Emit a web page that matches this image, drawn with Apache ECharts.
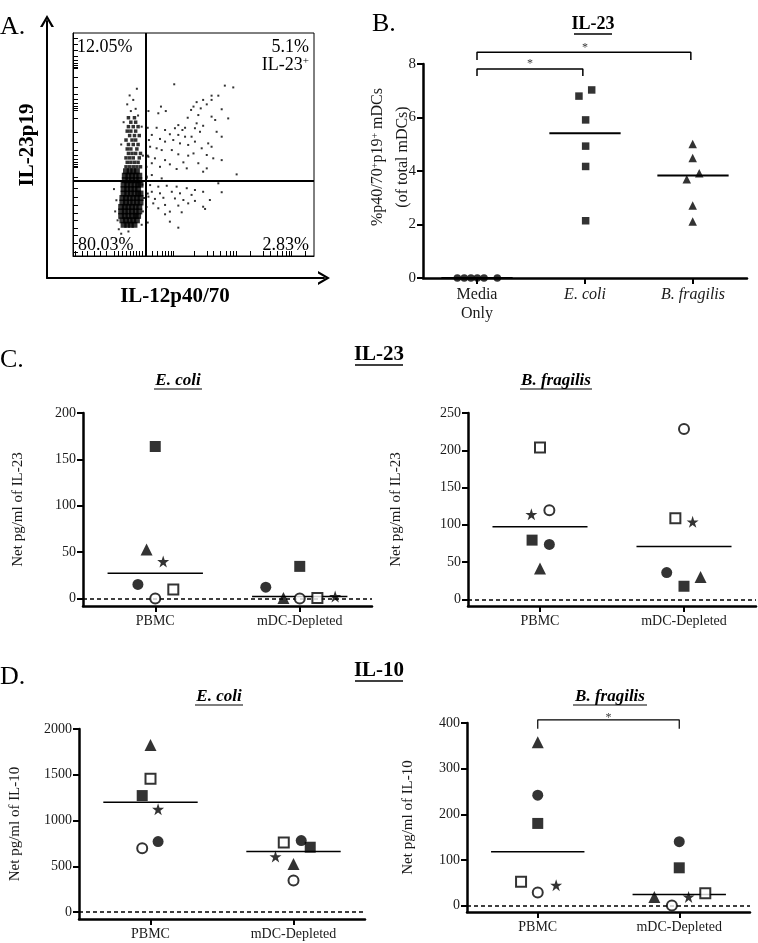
<!DOCTYPE html>
<html><head><meta charset="utf-8">
<script src="https://cdn.jsdelivr.net/npm/echarts@6/dist/echarts.min.js"></script>
<style>html,body{margin:0;padding:0;background:#fff}#c{width:758px;height:943px}</style>
</head><body><div id="c"></div>
<script>
// ================= DATA =================
// ---- Panel A (flow cytometry dot plot, arbitrary display units 0-100)
const flowTicksX = [0.8,3.7,5.8,8.7,11.2,13.7,17.0,18.7,20.3,22.0,23.7,24.9,26.1,27.4,28.6,32.8,34.9,36.9,38.2,39.4,40.7,41.5,50.2,55.6,58.1,61.0,63.5,65.1,66.4,67.6,73.4,78.8,81.7,84.6,86.7,88.4,89.6,90.5,96.3];
const flowTicksY = [97.8,95.1,92.4,89.7,87.9,86.5,85.7,84.8,84.3,80.3,75.8,72.6,70.4,68.6,67.3,66.4,65.5,61.9,55.6,51.1,47.5,45.3,43.5,42.2,41.3,40.4,39.9,35.4,30.5,26.5,22.9,19.3,16.1,12.6,9.4,5.8,1.8];
const flowGateX = 30.3;
const flowGateY = 33.6;
const flowCore = [
[21,14],[22.5,14],[24,14],[25.5,14],
[20.5,16],[22,16],[23.5,16],[25,16],[26.5,16],
[20,18],[21.5,18],[23,18],[24.5,18],[26,18],[27,18],
[20,20],[21.5,20],[23,20],[24.5,20],[26,20],[27.5,20],
[20,22],[21.5,22],[23,22],[24.5,22],[26,22],[27.5,22],
[20.5,24],[22,24],[23.5,24],[25,24],[26.5,24],[28,24],
[20.5,26],[22,26],[23.5,26],[25,26],[26.5,26],[28,26],
[21,28],[22.5,28],[24,28],[25.5,28],[27,28],[28,28],
[21,30],[22.5,30],[24,30],[25.5,30],[27,30],
[21,32],[22.5,32],[24,32],[25.5,32],[27,32],[28,32],
[21.5,34],[23,34],[24.5,34],[26,34],[27.5,34],
[21.5,36],[23,36],[24.5,36],[26,36],[27.5,36],
[22,38],[23.5,38],[25,38],[26.5,38]
];
const flowUpper = [
[22,40],[23.5,40],[25,40],[26.5,40],[28,40],
[22.5,42],[24,42],[25.5,42],[27,42],
[22,44],[23.5,44],[25,44],[27.5,44],
[23,46],[24.5,46],[26,46],[28,46],
[22.5,48],[24,48],[26.5,48],
[23,50],[25,50],[27,50],
[22,52],[24.5,52],[26,52],
[23.5,54],[25.5,54],[27.5,54],
[22.5,56],[24,56],[26,56],
[23,58],[25,58],[27,58],
[24,60],[26,60],
[23,62],[25.5,62]
];
const flowSparse = [
[24,65],[26,66],[22.5,68],[25,70],[27,63],[23.5,72],[26.5,75],[21,60],[28.5,58],[20,50],[29,45],
[19,12],[18.5,16],[17.5,20],[20,10],[23,11],[28.5,14],[29,20],[29.5,26],[28.8,32],[18,25],[17,30],
[30.5,35],[31,28],[30.5,22],[31,45],[31.5,52],[30.5,40],[31,15],
[42,77],[63,76.4],[66.5,75.6],[60.3,71.9],[57.5,71.9],[54,70],[57.5,70],[51.3,69],[55.5,68],[36.5,67],
[50,67],[53,66.2],[49,65.5],[38.5,65],[31.3,65],[35.4,64],[61.7,65.8],[52,63.2],[57.5,62.5],[47.6,62],
[64.4,61.7],[59,61],[51.3,59.5],[43.7,58.7],[46.5,57.5],[34.7,57.5],[38.2,56.5],[42.3,57.3],[45.4,56.5],
[50.6,57.3],[54,58.4],[31,57.5],[40.2,54.6],[43.7,54.3],[46.5,53.5],[49.2,53.5],[52.7,55.7],[59.6,55.7],
[61.7,53.5],[32.7,54.3],[36.1,52.5],[41.6,52],[38.2,51.3],[44.4,50.5],[47.8,49.8],[50.6,51.3],[56.1,50.5],
[57.5,49],[53.4,48.3],[32,49],[34.7,48.3],[36.8,47.5],[41,47.5],[43.7,45.6],[50,46],[47.8,45],[55.5,45.3],
[58.2,43.8],[61.7,43],[31.3,44.5],[34,43.8],[38.2,43],[45.8,42],[40.2,41.1],[52,41.6],[32.7,41.6],[36.1,40],
[43,39],[47.2,39.3],[54,37.8],[55.5,39.3],[67.9,36.6],[32.7,36.3],[36.8,34.8],[30.6,35.6],
[32,31.8],[35.4,31.1],[38.9,31.5],[43,31.1],[47.2,30.4],[50.6,29.6],[60.3,32.6],[61.7,28.6],[32.7,28.8],
[36.1,28.1],[41,28.8],[44.4,28.1],[49.2,27.4],[54,28.8],[31.3,26.6],[34,25.6],[37.5,26.1],[42.3,25.8],
[45.8,25.1],[50.6,24.7],[56.8,25.1],[33.3,23.6],[38.2,22.9],[43.7,22.6],[47.8,23.6],[54,22.1],[35.4,21.4],
[40.2,19.9],[54.8,21.1],[38.2,18.7],[45.1,19.6],[40.2,15.4],[43.7,12.7]
];
const flowQuadrantText = ['12.05%', '5.1%', 'IL-23', '80.03%', '2.83%'];

// ---- Panel B
const bCategories = ['Media\nOnly', 'E. coli', 'B. fragilis'];
const bYTicks = [0, 2, 4, 6, 8];
const bMediaX = [0.318, 0.382, 0.444, 0.503, 0.565, 0.688];
const bMediaY = [0, 0, 0, 0, 0, 0];
const bEcoliX = [1.444, 1.562, 1.506, 1.506, 1.506, 1.506];
const bEcoliY = [6.80, 7.03, 5.91, 4.93, 4.17, 2.14];
const bFragX = [2.497, 2.497, 2.558, 2.442, 2.497, 2.497];
const bFragY = [5.01, 4.49, 3.92, 3.69, 2.71, 2.11];
const bMeans = [0, 5.41, 3.83];
const bBracketLow = [[0.5, 7.55], [0.5, 7.81], [1.48, 7.81], [1.48, 7.55]];
const bBracketHigh = [[0.5, 8.15], [0.5, 8.44], [2.48, 8.44], [2.48, 8.15]];
const bStars = [[0.99, 8.0], [1.5, 8.6]];

// ---- Panels C & D (markers: filled square, filled triangle, star, filled circle, open circle, open square)
const groups = ['PBMC', 'mDC-Depleted'];
const markerOrder = ['filledSquare', 'filledTriangle', 'star', 'filledCircle', 'openCircle', 'openSquare'];

const cEcoliTicks = [0, 50, 100, 150, 200];
const cEcoliPBMC = [163.9, 53, 40, 15.2, 0, 9.7];
const cEcoliPBMCJitter = [0, -0.06, 0.055, -0.12, 0, 0.125];
const cEcoliMDC = [34.7, 0.7, 2.2, 12.3, 0, 0.5];
const cEcoliMDCJitter = [0, -0.113, 0.245, -0.235, 0, 0.122];
const cEcoliMeans = [27.4, 2.2];

const cFragTicks = [0, 50, 100, 150, 200, 250];
const cFragPBMC = [79.4, 41.3, 114, 73.6, 119.4, 203.8];
const cFragPBMCJitter = [-0.055, 0, -0.06, 0.065, 0.065, 0];
const cFragMDC = [17.5, 30, 104, 35.9, 228.5, 108.6];
const cFragMDCJitter = [0, 0.115, 0.06, -0.12, 0, -0.06];
const cFragMeans = [97.4, 70.9];

const dEcoliTicks = [0, 500, 1000, 1500, 2000];
const dEcoliPBMC = [1273, 1825, 1124, 771, 698, 1458];
const dEcoliPBMCJitter = [-0.058, 0, 0.053, 0.053, -0.058, 0];
const dEcoliMDC = [709, 527, 607, 782, 345, 760];
const dEcoliMDCJitter = [0.117, 0, -0.126, 0.054, 0, -0.068];
const dEcoliMeans = [1200, 662];

const dFragTicks = [0, 100, 200, 300, 400];
const dFragPBMC = [180, 358, 44.7, 241.8, 28.6, 52];
const dFragPBMCJitter = [0, 0, 0.13, 0, 0, -0.118];
const dFragMDC = [82.8, 19, 19, 140, 0, 27];
const dFragMDCJitter = [0, -0.176, 0.066, 0, -0.052, 0.184];
const dFragMeans = [118, 24.2];
const dFragBracket = [[0.5, 387.5], [0.5, 407], [1.5, 407], [1.5, 387.5]];
const dFragStar = [[1.0, 411]];

// ================= STYLE / BUILD =================
const SERIF = 'Liberation Serif';
const LABEL = '#1a1a1a';
const CENTERS = [0.5, 1.5];
const MEAN_HALF = 0.33;
const STAR = 'path://M50,0 L61.8,35.1 L98.9,35.1 L68.9,56.8 L80.3,91.9 L50,70.2 L19.7,91.9 L31.1,56.8 L1.1,35.1 L38.2,35.1 Z';
const CHEVRON = 'path://M0,12 L7,0 L14,12 L11.4,12 L7,4.2 L2.6,12 Z';
const MARKERS = {
  filledSquare: {symbol: 'rect', symbolSize: 11, itemStyle: {color: '#000'}},
  filledTriangle: {symbol: 'triangle', symbolSize: 12, itemStyle: {color: '#000'}},
  star: {symbol: STAR, symbolSize: 12, itemStyle: {color: '#000'}},
  filledCircle: {symbol: 'circle', symbolSize: 11, itemStyle: {color: '#000'}},
  openCircle: {symbol: 'circle', symbolSize: 10, itemStyle: {color: '#fff', borderColor: '#000', borderWidth: 2}},
  openSquare: {symbol: 'rect', symbolSize: 10, itemStyle: {color: '#fff', borderColor: '#000', borderWidth: 2}}
};

const grid = [
  {left: 73, top: 33, width: 241, height: 223, show: true, borderColor: '#000', borderWidth: 1},
  {left: 47, top: 21, width: 277, height: 257},
  {left: 423, top: 64, width: 324, height: 214},
  {left: 83, top: 413, width: 289, height: 193},
  {left: 468, top: 413, width: 288, height: 193},
  {left: 79, top: 729, width: 286, height: 190},
  {left: 467, top: 723, width: 283, height: 189}
];

const xAxis = [];
const yAxis = [];
const hiddenAxis = (gi, min, max) => ({type: 'value', gridIndex: gi, min, max, show: false});

// A
xAxis.push({type: 'value', gridIndex: 0, min: 0, max: 100, axisLine: {onZero: false, lineStyle: {color: '#000', width: 1}},
  axisTick: {show: true, inside: true, length: 5, customValues: flowTicksX, lineStyle: {color: '#000'}},
  axisLabel: {show: false}, splitLine: {show: false}});
yAxis.push({type: 'value', gridIndex: 0, min: 0, max: 100, axisLine: {onZero: false, lineStyle: {color: '#000', width: 1}},
  axisTick: {show: true, inside: true, length: 5, customValues: flowTicksY, lineStyle: {color: '#000'}},
  axisLabel: {show: false}, splitLine: {show: false}});
// A arrows
xAxis.push({type: 'value', gridIndex: 1, min: 0, max: 1, axisLine: {onZero: false, symbol: ['none', CHEVRON], symbolSize: [14, 12], lineStyle: {color: '#000', width: 2}},
  axisTick: {show: false}, axisLabel: {show: false}, splitLine: {show: false}});
yAxis.push({type: 'value', gridIndex: 1, min: 0, max: 1, axisLine: {onZero: false, symbol: ['none', CHEVRON], symbolSize: [14, 12], lineStyle: {color: '#000', width: 2}},
  axisTick: {show: false}, axisLabel: {show: false}, splitLine: {show: false}});

function catAxis(gi, cats, fontSize, rich, formatter) {
  return {type: 'category', gridIndex: gi, data: cats, position: 'bottom', boundaryGap: true,
    axisLine: {onZero: false, lineStyle: {color: '#000', width: 2.5}},
    axisTick: {show: true, alignWithLabel: true, interval: 0, length: 6, lineStyle: {color: '#000', width: 2}},
    axisLabel: {interval: 0, margin: 7, fontFamily: SERIF, fontSize, color: LABEL, rich, formatter, lineHeight: fontSize + 3},
    splitLine: {show: false}};
}
function valYAxis(gi, min, max, ticks, name, nameGap, fontSize) {
  return {type: 'value', gridIndex: gi, min, max,
    axisLine: {show: true, onZero: false, lineStyle: {color: '#000', width: 2.5}},
    axisTick: {show: true, length: 6, customValues: ticks, lineStyle: {color: '#000', width: 2}},
    axisLabel: {margin: 7, customValues: ticks, formatter: v => String(v), fontFamily: SERIF, fontSize, color: LABEL},
    splitLine: {show: false},
    name, nameLocation: 'middle', nameGap,
    nameTextStyle: {fontFamily: SERIF, fontSize: 15, color: LABEL}};
}

// B
xAxis.push(hiddenAxis(2, 0, 3));
xAxis.push(catAxis(2, bCategories, 16, {i: {fontStyle: 'italic', fontFamily: SERIF, fontSize: 16, color: LABEL}},
  v => v.indexOf('\n') >= 0 ? v : '{i|' + v + '}'));
yAxis.push(valYAxis(2, 0, 8, bYTicks, '', 0, 15));

// C, D
const cdSpecs = [
  {gi: 3, min: -8, max: 200, ticks: cEcoliTicks, name: 'Net pg/ml of IL-23', gap: 57, pb: cEcoliPBMC, pbj: cEcoliPBMCJitter, md: cEcoliMDC, mdj: cEcoliMDCJitter, means: cEcoliMeans},
  {gi: 4, min: -9, max: 250, ticks: cFragTicks, name: 'Net pg/ml of IL-23', gap: 64, pb: cFragPBMC, pbj: cFragPBMCJitter, md: cFragMDC, mdj: cFragMDCJitter, means: cFragMeans},
  {gi: 5, min: -75, max: 2000, ticks: dEcoliTicks, name: 'Net pg/ml of IL-10', gap: 56, pb: dEcoliPBMC, pbj: dEcoliPBMCJitter, md: dEcoliMDC, mdj: dEcoliMDCJitter, means: dEcoliMeans},
  {gi: 6, min: -14, max: 400, ticks: dFragTicks, name: 'Net pg/ml of IL-10', gap: 51, pb: dFragPBMC, pbj: dFragPBMCJitter, md: dFragMDC, mdj: dFragMDCJitter, means: dFragMeans}
];
cdSpecs.forEach(s => {
  s.xi = xAxis.length;
  xAxis.push(hiddenAxis(s.gi, 0, 2));
  xAxis.push(catAxis(s.gi, groups, 14));
  s.yi = yAxis.length;
  yAxis.push(valYAxis(s.gi, s.min, s.max, s.ticks, s.name, s.gap, 14));
});

const series = [];
// A series
series.push({type: 'scatter', xAxisIndex: 0, yAxisIndex: 0, data: flowCore, symbol: 'rect', symbolSize: 6, itemStyle: {color: '#000'}, silent: true,
  markLine: {silent: true, symbol: ['none', 'none'], label: {show: false}, lineStyle: {color: '#000', width: 2, type: 'solid'},
    data: [{xAxis: flowGateX}, {yAxis: flowGateY}]}});
series.push({type: 'scatter', xAxisIndex: 0, yAxisIndex: 0, data: flowUpper, symbol: 'rect', symbolSize: 3.5, itemStyle: {color: '#000'}, silent: true});
series.push({type: 'scatter', xAxisIndex: 0, yAxisIndex: 0, data: flowSparse, symbol: 'rect', symbolSize: 2, itemStyle: {color: '#000'}, silent: true});

// B series
const bx = 2, by = 2;
series.push({type: 'scatter', xAxisIndex: bx, yAxisIndex: by, clip: false, z: 5, symbol: 'circle', symbolSize: 7.5, itemStyle: {color: '#000'},
  data: bMediaX.map((x, i) => [x, bMediaY[i]])});
series.push({type: 'scatter', xAxisIndex: bx, yAxisIndex: by, clip: false, z: 5, symbol: 'rect', symbolSize: 7.5, itemStyle: {color: '#000'},
  data: bEcoliX.map((x, i) => [x, bEcoliY[i]])});
series.push({type: 'scatter', xAxisIndex: bx, yAxisIndex: by, clip: false, z: 5, symbol: 'triangle', symbolSize: 8.5, itemStyle: {color: '#000'},
  data: bFragX.map((x, i) => [x, bFragY[i]])});
bMeans.forEach((m, i) => series.push({type: 'line', xAxisIndex: bx, yAxisIndex: by, symbol: 'none', silent: true, z: 4,
  lineStyle: {color: '#000', width: 2}, data: [[i + 0.5 - MEAN_HALF, m], [i + 0.5 + MEAN_HALF, m]]}));
[bBracketLow, bBracketHigh].forEach(br => series.push({type: 'line', xAxisIndex: bx, yAxisIndex: by, symbol: 'none', clip: false, silent: true,
  lineStyle: {color: '#000', width: 1.5}, data: br}));
series.push({type: 'scatter', xAxisIndex: bx, yAxisIndex: by, clip: false, symbolSize: 1, itemStyle: {color: 'rgba(0,0,0,0)'},
  label: {show: true, position: 'inside', formatter: '*', fontFamily: SERIF, fontSize: 12, color: '#000'}, data: bStars});

// C/D series
cdSpecs.forEach(s => {
  s.means.forEach((m, g) => {
    const ser = {type: 'line', xAxisIndex: s.xi, yAxisIndex: s.yi, symbol: 'none', silent: true, z: 4,
      lineStyle: {color: '#000', width: 1.5}, data: [[CENTERS[g] - MEAN_HALF, m], [CENTERS[g] + MEAN_HALF, m]]};
    if (g === 0) {
      ser.markLine = {silent: true, symbol: ['none', 'none'], label: {show: false},
        lineStyle: {color: '#000', width: 1.5, type: [4, 3]}, data: [{yAxis: 0}]};
    }
    series.push(ser);
  });
  markerOrder.forEach((k, i) => {
    series.push(Object.assign({type: 'scatter', xAxisIndex: s.xi, yAxisIndex: s.yi, clip: false, z: 5,
      data: [[CENTERS[0] + s.pbj[i], s.pb[i]], [CENTERS[1] + s.mdj[i], s.md[i]]]}, MARKERS[k]));
  });
});
// D right bracket
const dR = cdSpecs[3];
series.push({type: 'line', xAxisIndex: dR.xi, yAxisIndex: dR.yi, symbol: 'none', clip: false, silent: true,
  lineStyle: {color: '#000', width: 1.2}, data: dFragBracket});
series.push({type: 'scatter', xAxisIndex: dR.xi, yAxisIndex: dR.yi, clip: false, symbolSize: 1, itemStyle: {color: 'rgba(0,0,0,0)'},
  label: {show: true, position: 'inside', formatter: '*', fontFamily: SERIF, fontSize: 12, color: '#000'}, data: dFragStar});

// ---- text graphics
function T(x, y, text, size, o) {
  return Object.assign({type: 'text', x, y, silent: true, style: Object.assign({text, fontFamily: SERIF, fontSize: size, fill: '#000',
    align: 'left', verticalAlign: 'middle'}, (o && o.style) || {})}, (o && o.el) || {});
}
function U(x1, x2, y, w) {
  return {type: 'line', silent: true, shape: {x1, y1: y, x2, y2: y}, style: {stroke: '#000', lineWidth: w || 1.5}};
}
const supRich = {a: {fontFamily: SERIF, fontSize: 18, fill: '#000'}, s: {fontFamily: SERIF, fontSize: 11, verticalAlign: 'top', fill: '#000'}};
const graphic = [
  T(0, 27, 'A.', 26),
  T(372, 24, 'B.', 26),
  T(0, 360, 'C.', 26),
  T(0, 677, 'D.', 26),
  // panel A texts
  T(77, 47, flowQuadrantText[0], 18),
  T(309, 47, flowQuadrantText[1], 18, {style: {align: 'right'}}),
  T(309, 65, '{a|' + flowQuadrantText[2] + '}{s|+}', 18, {style: {align: 'right', rich: supRich}}),
  T(78, 245, flowQuadrantText[3], 18),
  T(309, 245, flowQuadrantText[4], 18, {style: {align: 'right'}}),
  T(175, 297, 'IL-12p40/70', 21, {style: {align: 'center', fontWeight: 'bold'}}),
  T(28, 145, 'IL-23p19', 21, {style: {align: 'center', fontWeight: 'bold'}, el: {rotation: Math.PI / 2}}),
  // panel B texts
  T(593, 24, 'IL-23', 18, {style: {align: 'center', fontWeight: 'bold'}}),
  U(574, 612, 34),
  T(378, 157, '{a|%p40/70}{s|+}{a|p19}{s|+}{a| mDCs}', 16, {style: {align: 'center',
    rich: {a: {fontFamily: SERIF, fontSize: 16, fill: '#1a1a1a'}, s: {fontFamily: SERIF, fontSize: 10, verticalAlign: 'top', fill: '#1a1a1a'}}}, el: {rotation: Math.PI / 2}}),
  T(403, 157, '(of total mDCs)', 16, {style: {align: 'center', fill: '#1a1a1a'}, el: {rotation: Math.PI / 2}}),
  // panel C texts
  T(379, 355, 'IL-23', 21, {style: {align: 'center', fontWeight: 'bold'}}),
  U(355, 403, 365),
  T(178, 381, 'E. coli', 17, {style: {align: 'center', fontWeight: 'bold', fontStyle: 'italic'}}),
  U(154, 202, 389, 1.2),
  T(556, 381, 'B. fragilis', 17, {style: {align: 'center', fontWeight: 'bold', fontStyle: 'italic'}}),
  U(520, 592, 389, 1.2),
  // panel D texts
  T(379, 671, 'IL-10', 21, {style: {align: 'center', fontWeight: 'bold'}}),
  U(355, 403, 681),
  T(219, 697, 'E. coli', 17, {style: {align: 'center', fontWeight: 'bold', fontStyle: 'italic'}}),
  U(195, 243, 705, 1.2),
  T(610, 697, 'B. fragilis', 17, {style: {align: 'center', fontWeight: 'bold', fontStyle: 'italic'}}),
  U(573, 647, 705, 1.2)
];

const chart = echarts.init(document.getElementById('c'), null, {renderer: 'canvas', width: 758, height: 943});
chart.setOption({animation: false, backgroundColor: '#fff', grid, xAxis, yAxis, series, graphic});
</script>
</body></html>
